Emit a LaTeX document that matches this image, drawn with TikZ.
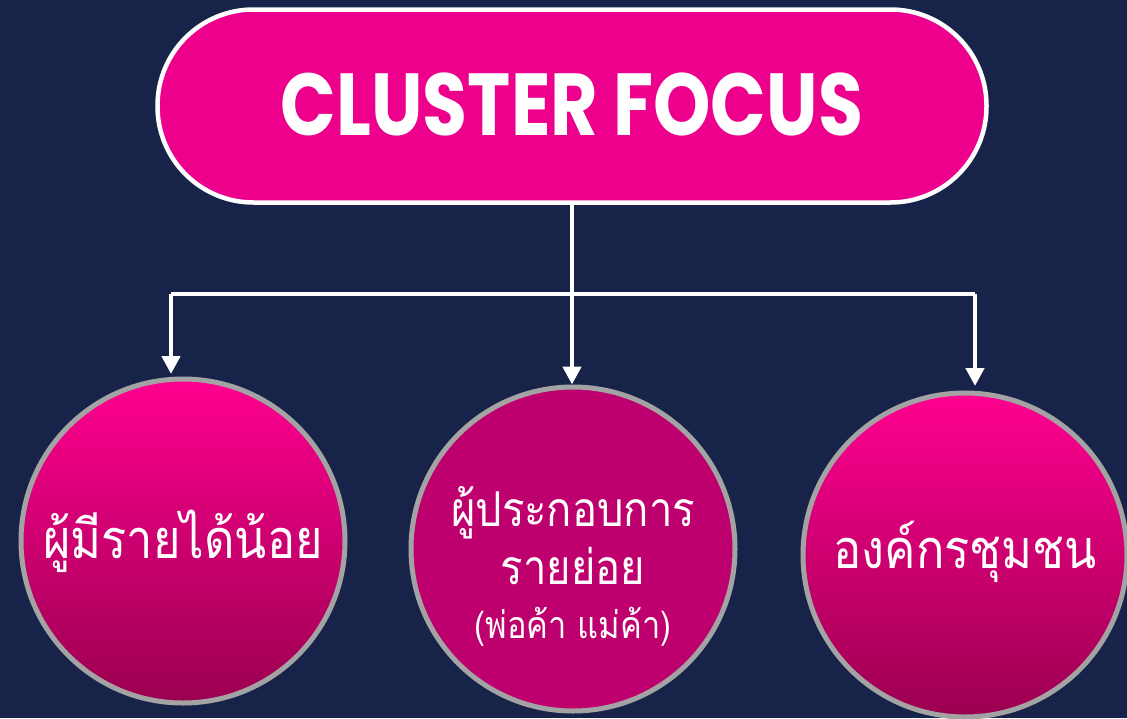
\documentclass[tikz,border=0pt]{standalone}
\usepackage{fontspec}
\newfontfamily\thaifont[Script=Thai, FakeStretch=0.87]{Loma}
\newfontfamily\titlefont[FakeStretch=0.83]{Poppins}
\usetikzlibrary{arrows.meta,positioning}

\definecolor{navy}{HTML}{18234A}
\definecolor{pillpink}{HTML}{EC008C}
\definecolor{toppink}{HTML}{FF0090}
\definecolor{lowpink}{HTML}{9B0050}
\definecolor{midpink}{HTML}{BE006E}
\definecolor{rimgray}{HTML}{A3A3A3}

\begin{document}
\begin{tikzpicture}[x=1pt, y=-1pt,
	pill/.style={draw=white, line width=4.5, fill=pillpink, rounded corners=96,
		minimum width=829, minimum height=193, text=white,
		font=\titlefont\bfseries\fontsize{88}{94}\selectfont},
	group/.style={circle, draw=rimgray, line width=5, minimum size=324, inner sep=0},
	grouptext/.style={text=white, align=center, inner sep=0,
		font=\thaifont\fontsize{54}{64}\selectfont},
	link/.style={draw=white, line width=4.5},
	arrow/.style={link, -{Triangle[width=18, length=18]}}]

	% ---- canvas

	\useasboundingbox (0,0) rectangle (1127,718);
	\fill[navy] (0,0) rectangle (1127,718);

	% ---- nodes

	\node[pill] (focus) at (572,106) {\raisebox{4pt}{CLUSTER FOCUS}};

	\node[group, top color=toppink, bottom color=lowpink] (low) at (183,541) {};
	\node[group, fill=midpink] (retail) at (573,549) {};
	\node[group, top color=toppink, bottom color=lowpink] (community) at (965,555) {};

	% ---- labels

	\node[grouptext] (lowtext) at (low) {ผู้มีรายได้น้อย};
	\node[grouptext, font=\thaifont\fontsize{48}{58}\selectfont] (retailtext)
		at ([yshift=-17pt]retail.center)
		{ผู้ประกอบการ\\รายย่อย\\[-4pt]{\fontsize{37.5}{44}\selectfont (พ่อค้า แม่ค้า)}};
	\node[grouptext] (communitytext) at ([yshift=3pt]community.center) {องค์กรชุมชน};

	% ---- connectors

	\coordinate (J) at (572,294);
	\coordinate (tipL) at (171,374);
	\coordinate (tipR) at (975,386);

	\draw[link] (focus.south) -- (J);
	\draw[link] (tipL |- J) -- (tipR |- J);
	\draw[arrow] (tipL |- J) -- (tipL);
	\draw[arrow] (J) -- (J |- retail.north);
	\draw[arrow] (tipR |- J) -- (tipR);

\end{tikzpicture}
\end{document}
